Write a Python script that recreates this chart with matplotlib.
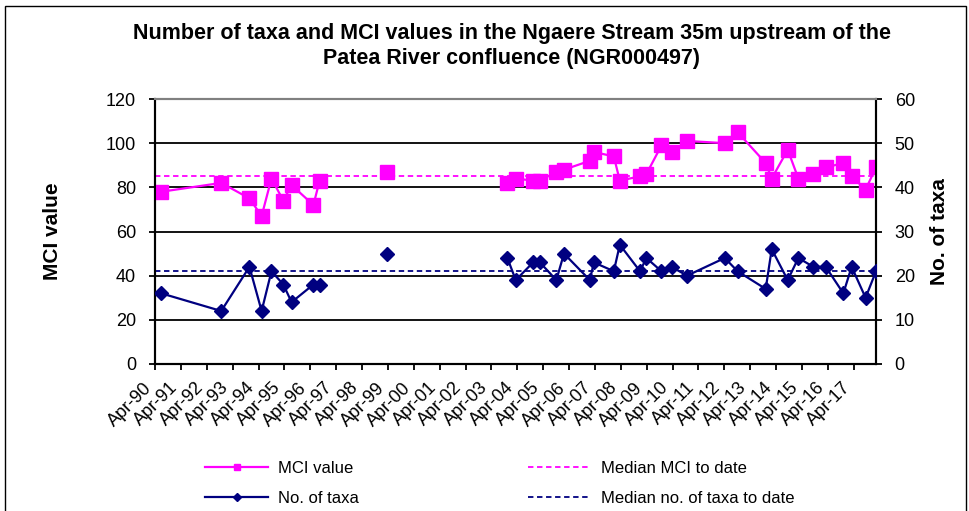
import numpy as np
import pandas as pd
import matplotlib
matplotlib.use("Agg")
import matplotlib.pyplot as plt
import matplotlib.dates as mdates
from matplotlib.lines import Line2D
from matplotlib.patches import Rectangle

plt.rcParams["font.family"] = ["Liberation Sans", "DejaVu Sans"]

# survey dates
sample_dates = [
    "1990-06-28", "1992-10-22", "1993-11-24", "1994-05-15", "1994-10-01",
    "1995-03-17", "1995-07-12", "1996-05-15", "1996-08-10", "1999-03-25",
    "2003-11-13", "2004-03-10", "2004-11-10", "2005-02-14", "2005-10-04",
    "2006-01-20", "2007-01-20", "2007-03-18", "2007-12-24", "2008-03-18",
    "2008-12-28", "2009-03-28", "2009-10-27", "2010-03-18", "2010-10-23",
    "2012-04-07", "2012-10-05", "2013-11-06", "2014-01-30", "2014-09-13",
    "2015-02-10", "2015-09-10", "2016-03-03", "2016-11-06", "2017-03-03",
    "2017-09-16", "2018-02-10",
]

mci_values = [
    78, 82, 75, 67, 84, 74, 81, 72, 83, 87,
    82, 84, 83, 83, 87, 88, 92, 96, 94, 83,
    85, 86, 99, 96, 101, 100, 105, 91, 84, 97,
    84, 86, 89, 91, 85, 79, 89,
]

taxa_counts = [
    16, 12, 22, 12, 21, 18, 14, 18, 18, 25,
    24, 19, 23, 23, 19, 25, 19, 23, 21, 27,
    21, 24, 21, 22, 20, 24, 21, 17, 26, 19,
    24, 22, 22, 16, 22, 15, 21,
]

# blank rows in the sheet before these surveys break the line
line_breaks = ["1999-03-25", "2003-11-13"]

median_mci = 85
median_taxa = 21

tick_years = list(range(1990, 2018))

title_text = (
    "Number of taxa and MCI values in the Ngaere Stream 35m upstream of the\n"
    "Patea River confluence (NGR000497)"
)

MAGENTA = "#FF00FF"
NAVY = "#000080"


def split_runs(dates, values):
    cuts = [0] + [dates.get_loc(pd.Timestamp(b)) for b in line_breaks]
    cuts.append(len(dates))
    return [
        (dates[a:b], values[a:b])
        for a, b in zip(cuts[:-1], cuts[1:])
    ]


def main():
    dates = pd.DatetimeIndex(pd.to_datetime(sample_dates))
    mci = np.array(mci_values, dtype=float)
    taxa = np.array(taxa_counts, dtype=float)

    fig = plt.figure(figsize=(9.7, 5.11), dpi=100)
    ax = fig.add_axes([155 / 970, 1 - 364 / 511, 721 / 970, 265 / 511])
    ax2 = ax.twinx()

    x_min = pd.Timestamp("1990-04-01")
    x_max = dates[-1]

    # gridlines
    for v in range(20, 120, 20):
        ax.plot([x_min, x_max], [v, v], color="black", lw=1.3, zorder=1)

    # MCI
    for d, v in split_runs(dates, mci):
        ax.plot(d, v, color=MAGENTA, lw=1.6, ls="-", zorder=3)
        ax.plot(d, v, ls="none", marker="s", ms=9.5,
                mec=MAGENTA, mfc=MAGENTA, zorder=4)
    ax.plot([x_min, x_max], [median_mci, median_mci], color=MAGENTA,
            lw=1.3, ls=(0, (3, 2)), zorder=2)

    # taxa
    for d, v in split_runs(dates, taxa):
        ax2.plot(d, v, color=NAVY, lw=1.6, ls="-", zorder=3)
        ax2.plot(d, v, ls="none", marker="D", ms=7,
                 mec=NAVY, mfc=NAVY, zorder=4)
    ax2.plot([x_min, x_max], [median_taxa, median_taxa], color=NAVY,
             lw=1.3, ls=(0, (3, 2)), zorder=2)

    ax.set_xlim(x_min, x_max)
    ax.set_ylim(0, 120)
    ax2.set_ylim(0, 60)
    ax.set_yticks(range(0, 121, 20))
    ax2.set_yticks(range(0, 61, 10))

    ax.set_xticks([pd.Timestamp(f"{y}-04-01") for y in tick_years])
    ax.xaxis.set_major_formatter(mdates.DateFormatter("%b-%y"))
    for lab in ax.get_xticklabels():
        lab.set_rotation(45)
        lab.set_ha("right")

    ax.tick_params(axis="x", length=4, width=1.3, labelsize=13, pad=7)
    ax.tick_params(axis="y", length=4.5, width=1.3, labelsize=13, pad=9)
    ax2.tick_params(axis="y", length=4.5, width=1.3, labelsize=13, pad=9)

    for a in (ax, ax2):
        a.spines["top"].set_color("#808080")
        a.spines["top"].set_linewidth(1.5)
        for s in ("left", "right", "bottom"):
            a.spines[s].set_linewidth(1.5)
            a.spines[s].set_color("black")

    ax.set_ylabel("MCI value", fontsize=15, fontweight="bold")
    ax.yaxis.set_label_coords(-0.129, 0.5)
    ax2.set_ylabel("No. of taxa", fontsize=15, fontweight="bold")
    ax2.yaxis.set_label_coords(1.075, 0.5)

    fig.text(512 / 970, 1 - 46 / 511, title_text, ha="center",
             va="center", fontsize=15.5, fontweight="bold", linespacing=1.25)

    handles = [
        Line2D([], [], color=MAGENTA, lw=1.6, marker="s", ms=5),
        Line2D([], [], color=NAVY, lw=1.6, marker="D", ms=4),
        Line2D([], [], color=MAGENTA, lw=1.3, ls=(0, (3, 2))),
        Line2D([], [], color=NAVY, lw=1.3, ls=(0, (3, 2))),
    ]
    labels = ["MCI value", "No. of taxa", "Median MCI to date",
              "Median no. of taxa to date"]
    fig.legend(handles, labels, ncol=2, frameon=False, fontsize=12,
               loc="upper left", bbox_to_anchor=(205 / 970, 1 - 461 / 511),
               borderpad=0, borderaxespad=0, handlelength=3.8,
               handletextpad=0.6, columnspacing=10.1, labelspacing=0.9)

    fig.patches.append(Rectangle((5 / 970, -0.1), 961 / 970, 1.1 - 6 / 511,
                                 transform=fig.transFigure, fill=False,
                                 edgecolor="black", lw=1))

    fig.savefig("out.png", dpi=100)
    plt.close(fig)


if __name__ == "__main__":
    main()
